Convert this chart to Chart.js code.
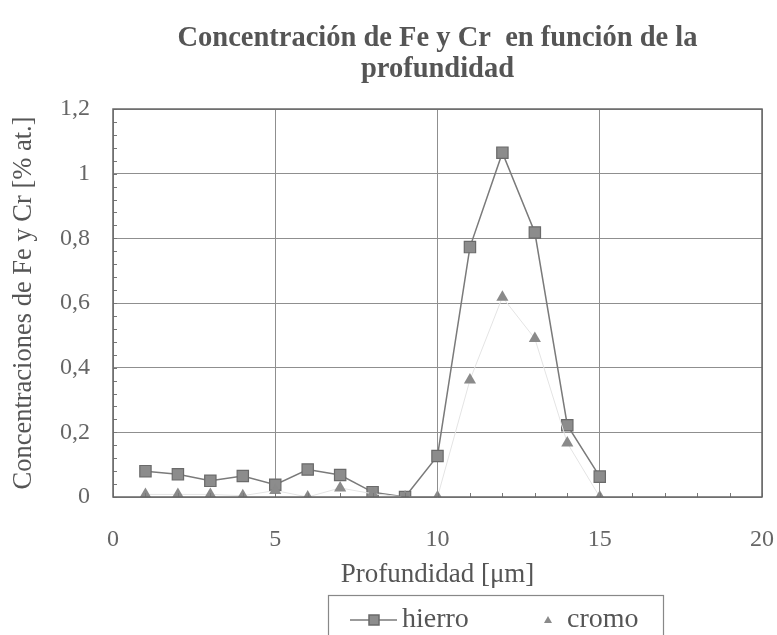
<!DOCTYPE html>
<html>
<head>
<meta charset="utf-8">
<script src="https://cdn.jsdelivr.net/npm/chart.js@4"></script>
<style>
  html, body { margin: 0; padding: 0; background: #fff; }
  #wrap { width: 777px; height: 635px; }
</style>
</head>
<body>
<div id="wrap"><canvas id="c" width="777" height="635"></canvas></div>
<script>
// Depth in micrometres and atomic concentration (%) of Fe and Cr
const profundidad = [1, 2, 3, 4, 5, 6, 7, 8, 9, 10, 11, 12, 13, 14, 15];
const hierro = [0.08, 0.07, 0.05, 0.065, 0.038, 0.085, 0.068, 0.015, 0.0, 0.127, 0.773, 1.065, 0.818, 0.222, 0.063];
const cromo  = [0.008, 0.008, 0.008, 0.004, 0.02, 0.0, 0.028, 0.01, 0.0, 0.0, 0.362, 0.618, 0.49, 0.167, 0.0];
const yTicks = [0, 0.2, 0.4, 0.6, 0.8, 1, 1.2];
const xTicks = [0, 5, 10, 15, 20];

const SERIF = '"Liberation Serif", "DejaVu Serif", serif';
const INK = '#555';

const toPoints = (xs, ys) => xs.map((x, i) => ({ x: x, y: ys[i] }));

// Short inward minor tick marks along both axes, and the plot frame
const minorTicks = {
  id: 'minorTicks',
  afterDraw(chart) {
    const { ctx, chartArea: a, scales: { x, y } } = chart;
    ctx.save();
    ctx.strokeStyle = '#777';
    ctx.lineWidth = 1;
    ctx.beginPath();
    for (let v = 0; v <= 20.001; v += 1) {
      const px = Math.round(x.getPixelForValue(v)) + 0.5;
      ctx.moveTo(px, a.bottom);
      ctx.lineTo(px, a.bottom - 4);
    }
    for (let v = 0; v <= 1.2001; v += 0.04) {
      const py = Math.round(y.getPixelForValue(v)) + 0.5;
      ctx.moveTo(a.left, py);
      ctx.lineTo(a.left + 4, py);
    }
    ctx.stroke();
    ctx.strokeStyle = '#666';
    ctx.lineWidth = 1.5;
    ctx.strokeRect(a.left, a.top, a.right - a.left, a.bottom - a.top);
    ctx.restore();
  }
};

// Boxed legend below the axis title
const boxLegend = {
  id: 'boxLegend',
  afterDraw(chart) {
    const { ctx, chartArea: a } = chart;
    const left = a.left + 215;
    const top = a.bottom + 98;
    const w = 335;
    ctx.save();
    ctx.strokeStyle = '#888';
    ctx.lineWidth = 1.2;
    ctx.strokeRect(Math.round(left) + 0.5, top + 0.5, w, 60);
    const ty = top + 25;
    const ds = chart.data.datasets;
    // hierro: line with square marker
    const lx = left + 22;
    ctx.strokeStyle = ds[0].borderColor;
    ctx.lineWidth = 1.5;
    ctx.beginPath();
    ctx.moveTo(lx, ty); ctx.lineTo(lx + 47, ty); ctx.stroke();
    ctx.fillStyle = ds[0].pointBackgroundColor;
    ctx.strokeStyle = ds[0].pointBorderColor;
    ctx.fillRect(lx + 19, ty - 5, 10, 10);
    ctx.strokeRect(lx + 19, ty - 5, 10, 10);
    ctx.fillStyle = INK;
    ctx.font = '28px ' + SERIF;
    ctx.textBaseline = 'middle';
    ctx.fillText(ds[0].label, lx + 52, ty);
    // cromo: triangle marker only
    const tx = left + 220;
    ctx.fillStyle = ds[1].pointBackgroundColor;
    ctx.beginPath();
    ctx.moveTo(tx, ty - 4); ctx.lineTo(tx + 4, ty + 3); ctx.lineTo(tx - 4, ty + 3); ctx.closePath();
    ctx.fill();
    ctx.fillStyle = INK;
    ctx.fillText(ds[1].label, tx + 19, ty);
    ctx.restore();
  }
};

new Chart(document.getElementById('c'), {
  type: 'scatter',
  data: {
    datasets: [
      {
        label: 'hierro',
        data: toPoints(profundidad, hierro),
        showLine: true,
        borderColor: '#7a7a7a',
        borderWidth: 1.5,
        pointStyle: 'rect',
        pointRadius: 8,
        pointBackgroundColor: '#8c8c8c',
        pointBorderColor: '#6a6a6a',
        pointBorderWidth: 1.2,
        order: 2
      },
      {
        label: 'cromo',
        data: toPoints(profundidad, cromo),
        showLine: true,
        borderColor: '#e4e4e4',
        borderWidth: 1,
        pointStyle: 'triangle',
        pointRadius: 7,
        pointBackgroundColor: '#8a8a8a',
        pointBorderColor: '#8a8a8a',
        pointBorderWidth: 0,
        order: 1
      }
    ]
  },
  options: {
    responsive: false,
    animation: false,
    layout: { padding: { left: 8, right: 15, top: 23, bottom: 44 } },
    plugins: {
      legend: { display: false },
      tooltip: { enabled: false },
      title: {
        display: true,
        fullSize: false,
        text: ['Concentración de Fe y Cr  en función de la', 'profundidad'],
        color: INK,
        font: { family: SERIF, size: 28.5, weight: 'bold', lineHeight: 1.088 },
        padding: { top: 0, bottom: 24 }
      }
    },
    scales: {
      x: {
        type: 'linear',
        min: 0,
        max: 20,
        afterBuildTicks: (s) => { s.ticks = xTicks.map(v => ({ value: v })); },
        afterFit: (s) => { s.height = 94; s.paddingLeft = 0; s.paddingRight = 0; },
        ticks: { color: '#666', font: { family: SERIF, size: 24 }, padding: 28 },
        grid: { color: '#8f8f8f', lineWidth: 1, drawTicks: false },
        border: { display: false },
        title: {
          display: true,
          text: 'Profundidad [μm]',
          color: INK,
          font: { family: SERIF, size: 27 },
          padding: { top: 4, bottom: 0 }
        }
      },
      y: {
        type: 'linear',
        min: 0,
        max: 1.2,
        afterBuildTicks: (s) => { s.ticks = yTicks.map(v => ({ value: v })); },
        afterFit: (s) => { s.width = 105; s.paddingTop = 0; s.paddingBottom = 0; },
        ticks: {
          color: '#666',
          font: { family: SERIF, size: 24 },
          padding: 23,
          callback: (v) => String(Math.round(v * 10) / 10).replace('.', ',')
        },
        grid: { color: '#8f8f8f', lineWidth: 1, drawTicks: false },
        border: { display: false },
        title: {
          display: true,
          text: 'Concentraciones de Fe y Cr [% at.]',
          color: INK,
          font: { family: SERIF, size: 26.5 },
          padding: { top: 0, bottom: 6 }
        }
      }
    }
  },
  plugins: [minorTicks, boxLegend]
});
</script>
</body>
</html>
